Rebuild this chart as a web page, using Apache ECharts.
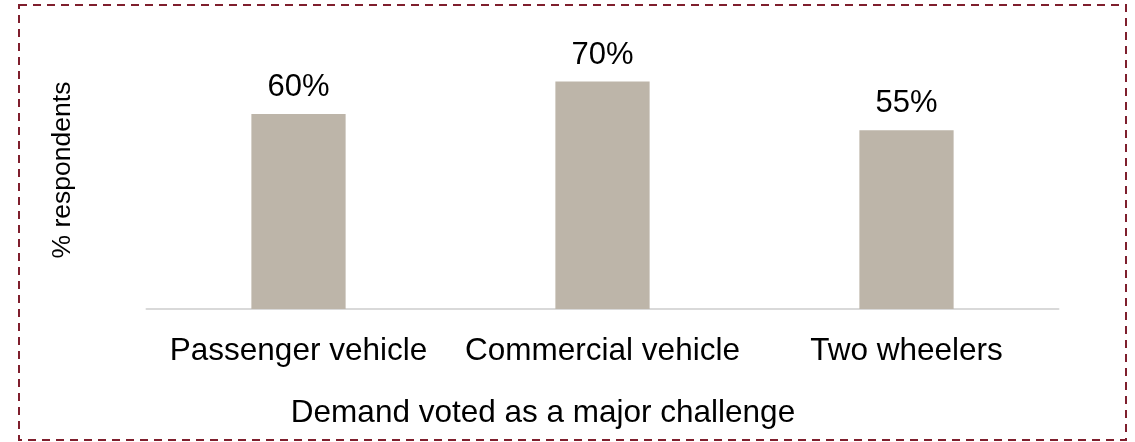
<!DOCTYPE html>
<html>
<head>
<meta charset="utf-8">
<script src="https://cdn.jsdelivr.net/npm/echarts@6/dist/echarts.min.js"></script>
<style>
  html, body { margin: 0; padding: 0; background: #ffffff; }
  #chart { width: 1135px; height: 442px; }
</style>
</head>
<body>
<div id="chart"></div>
<script>
// Vehicle segments and share of respondents naming demand as a major challenge
const categories = ['Passenger vehicle', 'Commercial vehicle', 'Two wheelers'];
const respondentShare = [60, 70, 55];
const xAxisTitle = 'Demand voted as a major challenge';
const yAxisTitle = '% respondents';

const FONT = '"Liberation Sans", Arial, sans-serif';

const chart = echarts.init(document.getElementById('chart'), null, { renderer: 'canvas' });

chart.setOption({
  animation: false,
  backgroundColor: '#ffffff',
  grid: { left: 146.5, right: 76.5, top: 49, bottom: 133, containLabel: false },
  xAxis: {
    type: 'category',
    data: categories,
    axisLine: { show: true, lineStyle: { color: '#d9d9d9', width: 2 } },
    axisTick: { show: false },
    axisLabel: { color: '#000000', fontFamily: FONT, fontSize: 31.5, margin: 26, interval: 0 }
  },
  yAxis: {
    type: 'value',
    min: 0,
    max: 80,
    axisLine: { show: false },
    axisTick: { show: false },
    axisLabel: { show: false },
    splitLine: { show: false }
  },
  series: [{
    type: 'bar',
    data: respondentShare,
    barWidth: '31%',
    itemStyle: { color: '#bdb5a9' },
    label: {
      show: true,
      position: 'top',
      distance: 11,
      color: '#000000',
      fontFamily: FONT,
      fontSize: 31,
      formatter: p => p.value + '%'
    }
  }],
  graphic: [{
    // category axis title
    type: 'text',
    x: 543,
    y: 413,
    style: {
      text: xAxisTitle,
      fill: '#000000',
      font: '31.5px ' + FONT,
      align: 'center',
      verticalAlign: 'middle'
    },
    silent: true
  }, {
    // value axis title, reading bottom to top
    type: 'text',
    x: 63,
    y: 170,
    rotation: Math.PI / 2,
    style: {
      text: yAxisTitle,
      fill: '#000000',
      font: '26.5px ' + FONT,
      align: 'center',
      verticalAlign: 'middle'
    },
    silent: true
  }, {
    // dashed frame around the chart
    type: 'rect',
    shape: { x: 19, y: 5, width: 1107, height: 435 },
    style: { fill: 'none', stroke: '#7f1f2d', lineWidth: 2, lineDash: [8, 6] },
    silent: true
  }]
});
</script>
</body>
</html>
